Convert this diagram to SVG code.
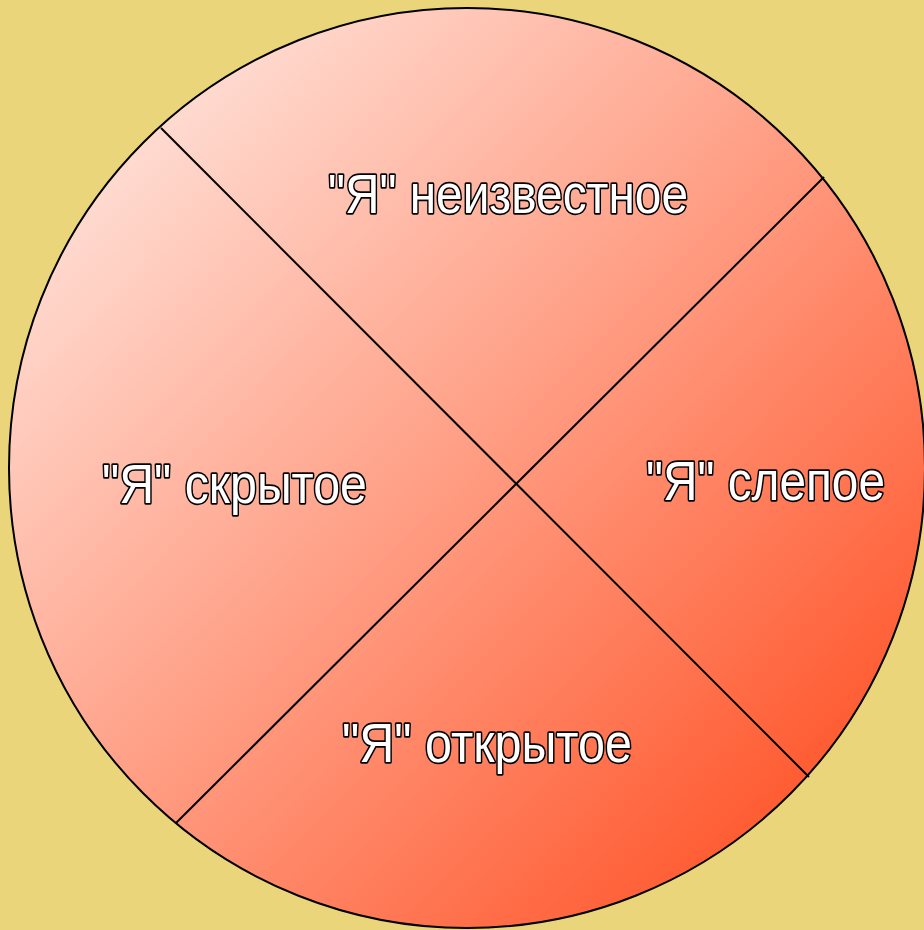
<svg xmlns="http://www.w3.org/2000/svg" width="924" height="930" viewBox="0 0 924 930">
  <defs>
    <linearGradient id="fillGrad" x1="0" y1="0" x2="1" y2="1">
      <stop offset="0" stop-color="#FFF4F0"/>
      <stop offset="0.5" stop-color="#FF9C82"/>
      <stop offset="1" stop-color="#FF4212"/>
    </linearGradient>
    <style>
      .lbl { font-family: "Liberation Sans", Arial, sans-serif; font-size: 55px; fill: #ffffff; stroke: #000000; stroke-width: 3.4; paint-order: stroke; stroke-linejoin: round; text-anchor: start; }
      .edge { stroke: #000000; stroke-width: 2; fill: none; }
    </style>
  </defs>
  <rect width="924" height="930" fill="#EBD57A"/>
  <g id="circle">
    <ellipse cx="467" cy="468" rx="458" ry="460" fill="url(#fillGrad)" stroke="#000000" stroke-width="2"/>
  </g>
  <g id="connectors">
    <line class="edge" x1="161" y1="128" x2="809" y2="777"/>
    <line class="edge" x1="824" y1="177" x2="176" y2="823"/>
  </g>
  <g id="unknown">
    <text class="lbl" x="328" y="213" textLength="360" lengthAdjust="spacingAndGlyphs">"Я" неизвестное</text>
  </g>
  <g id="hidden">
    <text class="lbl" x="102" y="503" textLength="265" lengthAdjust="spacingAndGlyphs">"Я" скрытое</text>
  </g>
  <g id="blind">
    <text class="lbl" x="646" y="500" textLength="239" lengthAdjust="spacingAndGlyphs">"Я" слепое</text>
  </g>
  <g id="open">
    <text class="lbl" x="342" y="762" textLength="290" lengthAdjust="spacingAndGlyphs">"Я" открытое</text>
  </g>
</svg>
